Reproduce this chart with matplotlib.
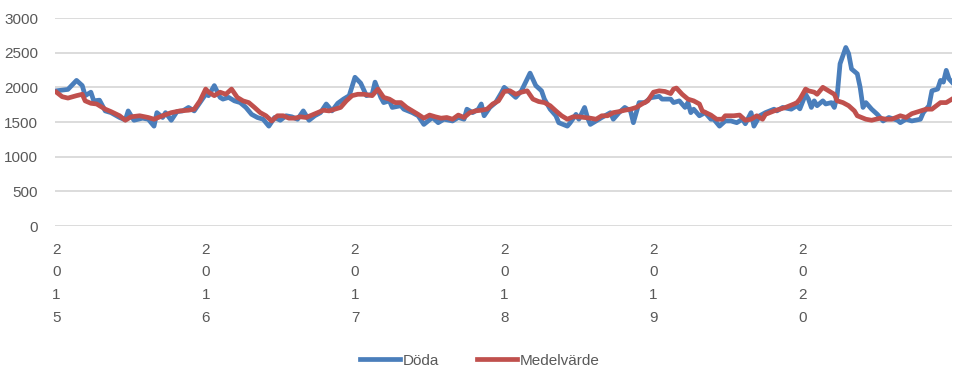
import numpy as np
import matplotlib
matplotlib.use("Agg")
import matplotlib.pyplot as plt

# veckonummer (0 = första veckan 2015) och avlästa värden
veckor_doda = [0, 2, 4, 7, 9, 10, 12, 13, 15, 17, 19, 22, 24, 25, 27, 30, 32, 34, 35, 37,
               38, 40, 42, 44, 46, 48, 50, 52, 53, 55, 57, 58, 60, 62, 64, 66, 68, 70, 72, 74,
               76, 78, 80, 82, 84, 86, 88, 90, 92, 94, 96, 98, 100, 102, 104, 106, 108, 110, 111, 113,
               114, 116, 117, 120, 121, 124, 126, 128, 131, 133, 135, 138, 140, 142, 143, 145, 147, 148, 149, 151,
               153, 155, 156, 158, 160, 162, 164, 165, 167, 169, 170, 172, 174, 175, 178, 179, 181, 182, 184, 185,
               186, 188, 190, 193, 194, 196, 198, 200, 201, 203, 205, 207, 210, 211, 214, 215, 217, 219, 220, 221,
               222, 224, 226, 228, 229, 231, 233, 235, 237, 239, 240, 242, 243, 245, 247, 250, 251, 253, 256, 258,
               259, 261, 262, 263, 264, 265, 267, 268, 270, 271, 272, 273, 275, 276, 277, 279, 280, 281, 282, 284,
               286, 288, 290, 293, 294, 296, 298, 301, 302, 304, 305, 307, 308, 309, 310, 311, 312]
doda = [1950, 1960, 1970, 2100, 2025, 1880, 1930, 1805, 1815, 1660, 1635, 1565, 1530, 1660, 1525, 1555, 1540, 1440, 1635, 1565,
        1635, 1525, 1650, 1660, 1710, 1660, 1780, 1900, 1880, 2025, 1855, 1830, 1855, 1805, 1780, 1710, 1610, 1565, 1540, 1440,
        1565, 1525, 1590, 1575, 1540, 1660, 1525, 1590, 1635, 1760, 1660, 1770, 1830, 1880, 2145, 2060, 1880, 1900, 2075, 1855,
        1780, 1805, 1710, 1735, 1685, 1635, 1590, 1465, 1565, 1490, 1540, 1515, 1565, 1540, 1685, 1635, 1685, 1760, 1590, 1710,
        1780, 1920, 2000, 1930, 1855, 1950, 2120, 2205, 2025, 1950, 1830, 1685, 1590, 1490, 1440, 1490, 1610, 1540, 1710, 1565,
        1465, 1515, 1565, 1635, 1540, 1635, 1710, 1660, 1490, 1780, 1780, 1850, 1870, 1830, 1830, 1780, 1805, 1710, 1780, 1635,
        1685, 1590, 1635, 1540, 1540, 1440, 1515, 1515, 1490, 1540, 1475, 1635, 1440, 1590, 1635, 1685, 1660, 1710, 1685, 1735,
        1690, 1900, 1830, 1710, 1805, 1735, 1805, 1760, 1780, 1710, 1880, 2340, 2575, 2485, 2265, 2195, 2000, 1710, 1780, 1685,
        1610, 1515, 1565, 1525, 1490, 1540, 1515, 1540, 1635, 1735, 1950, 1975, 2100, 2075, 2245, 2120, 2075]

veckor_medel = [0, 2, 4, 7, 9, 10, 12, 14, 17, 19, 22, 24, 26, 29, 32, 34, 37, 40, 43, 46,
                48, 50, 52, 53, 55, 57, 59, 61, 63, 65, 67, 69, 71, 73, 75, 77, 79, 81, 83, 85,
                87, 89, 91, 93, 95, 97, 99, 101, 103, 105, 107, 110, 112, 114, 116, 118, 120, 122, 124, 126,
                128, 130, 132, 134, 136, 138, 140, 142, 144, 146, 148, 150, 152, 154, 156, 158, 160, 162, 164, 166,
                168, 170, 172, 174, 176, 178, 180, 182, 184, 186, 188, 190, 192, 194, 196, 198, 200, 202, 204, 206,
                208, 210, 212, 214, 215, 216, 218, 220, 222, 224, 225, 228, 230, 232, 233, 236, 238, 240, 242, 244,
                246, 247, 250, 252, 254, 257, 258, 259, 261, 262, 264, 265, 267, 269, 271, 272, 274, 276, 278, 279,
                282, 284, 287, 289, 291, 294, 296, 298, 301, 303, 305, 308, 310, 312]
medel = [1930, 1865, 1845, 1880, 1900, 1805, 1770, 1760, 1685, 1650, 1590, 1525, 1575, 1590, 1565, 1540, 1590, 1635, 1660, 1670,
         1685, 1805, 1975, 1930, 1880, 1930, 1900, 1975, 1855, 1805, 1780, 1710, 1635, 1590, 1515, 1590, 1590, 1555, 1555, 1575,
         1565, 1600, 1635, 1670, 1660, 1685, 1710, 1805, 1880, 1900, 1900, 1880, 1975, 1855, 1830, 1780, 1780, 1710, 1660, 1610,
         1555, 1600, 1575, 1555, 1565, 1540, 1600, 1565, 1635, 1660, 1670, 1685, 1760, 1805, 1940, 1950, 1900, 1930, 1950, 1830,
         1795, 1780, 1735, 1660, 1590, 1540, 1575, 1575, 1565, 1555, 1540, 1590, 1590, 1635, 1650, 1670, 1685, 1710, 1760, 1805,
         1930, 1950, 1940, 1910, 1975, 1990, 1900, 1830, 1805, 1760, 1660, 1600, 1540, 1540, 1590, 1590, 1600, 1525, 1540, 1590,
         1540, 1610, 1660, 1685, 1710, 1760, 1780, 1830, 1975, 1950, 1930, 1900, 2000, 1950, 1900, 1805, 1780, 1735, 1660, 1590,
         1540, 1525, 1555, 1540, 1540, 1590, 1565, 1620, 1660, 1685, 1685, 1780, 1780, 1830]

ar_veckor = [0, 52, 104, 156, 208, 260]
ar_etiketter = ["2\n0\n1\n5", "2\n0\n1\n6", "2\n0\n1\n7", "2\n0\n1\n8", "2\n0\n1\n9", "2\n0\n2\n0"]

plt.rcParams['font.family'] = ['Liberation Sans', 'DejaVu Sans']
grey = '#595959'

fig = plt.figure(figsize=(9.6, 3.72), dpi=100)
ax = fig.add_axes([55/960, 1 - 226/372, 897/960, 208/372])

ax.plot(veckor_doda, doda, color='#4a7ebb', lw=3.4, solid_joinstyle='round', label='Döda')
ax.plot(veckor_medel, medel, color='#c0504d', lw=3.4, solid_joinstyle='round', label='Medelvärde')

ax.set_ylim(0, 3000)
ax.set_xlim(-0.5, 312)
ax.set_yticks(np.arange(0, 3001, 500))
ax.yaxis.grid(True, color='#d9d9d9', lw=1.3)
ax.set_axisbelow(True)
for s in ax.spines.values():
    s.set_visible(False)
ax.tick_params(axis='both', length=0, colors=grey, labelsize=11)
ax.tick_params(axis='y', pad=12)
ax.set_xticks(ar_veckor)
ax.set_xticklabels(ar_etiketter, linespacing=1.8, va='top')
ax.tick_params(axis='x', pad=12)

fig.legend(loc='lower center', bbox_to_anchor=(0.5, -0.025), ncol=2, frameon=False,
           fontsize=11, handlelength=2.6, handletextpad=0.2, columnspacing=2.5,
           labelcolor=grey)

plt.savefig('out.png', dpi=100)
